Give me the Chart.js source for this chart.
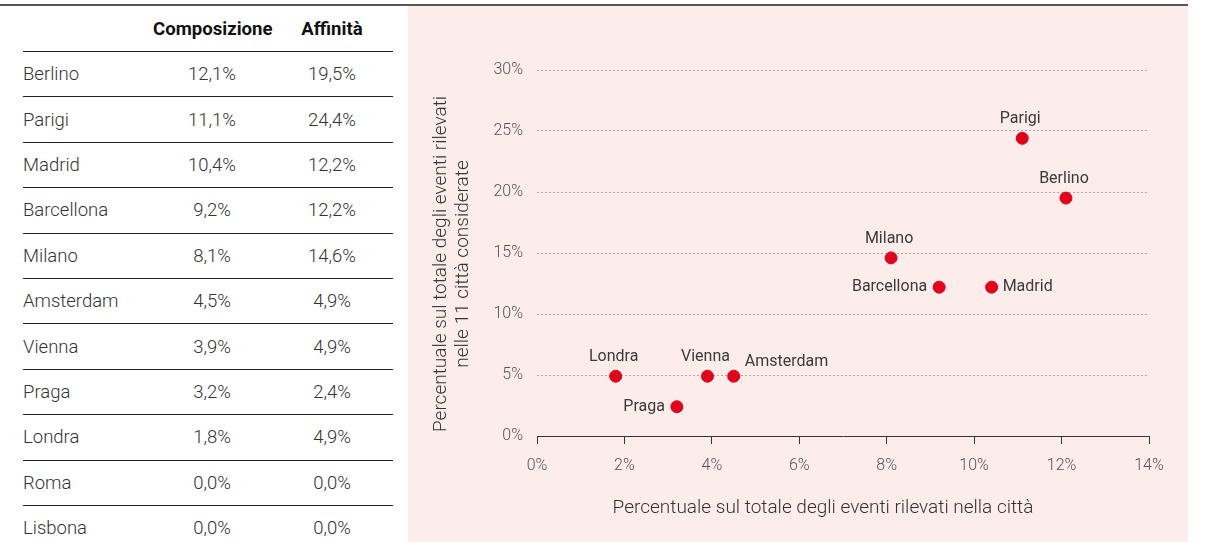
<!DOCTYPE html>
<html lang="it">
<head>
<meta charset="utf-8">
<title>Composizione e affinità</title>
<script src="https://cdn.jsdelivr.net/npm/chart.js@4.4.1/dist/chart.umd.min.js"></script>
<style>
  body { margin: 0; background: #fff; font-family: Roboto, "Noto Sans", sans-serif; }
  #topLine { position: absolute; left: 0; top: 4px; width: 1188px; height: 2px; background: #555; }
  #panel { position: absolute; left: 408px; top: 6px; width: 780px; height: 536px; background: #fdedea; }
  #table { position: absolute; left: 23px; top: 6px; width: 370px; color: #333; font-size: 18.5px; font-weight: 300; }
  .row { display: flex; align-items: center; height: 45.4px; box-sizing: border-box; border-top: 1px solid #222; }
  .row.head { height: 45px; border-top: none; font-weight: 700; font-size: 18.6px; color: #111; }
  .name { width: 130px; }
  .c1 { width: 118px; text-align: center; }
  .c2 { width: 122px; text-align: center; }
</style>
</head>
<body>
<div id="topLine"></div>
<div id="table"></div>
<div id="panel"><canvas id="scatter" width="780" height="536"></canvas></div>
<script>
// table data (all 11 cities)
const cities = ["Berlino", "Parigi", "Madrid", "Barcellona", "Milano", "Amsterdam", "Vienna", "Praga", "Londra", "Roma", "Lisbona"];
const composizione = [12.1, 11.1, 10.4, 9.2, 8.1, 4.5, 3.9, 3.2, 1.8, 0.0, 0.0];
const affinita = [19.5, 24.4, 12.2, 12.2, 14.6, 4.9, 4.9, 2.4, 4.9, 0.0, 0.0];
const xTicks = [0, 2, 4, 6, 8, 10, 12, 14];
const yTicks = [0, 5, 10, 15, 20, 25, 30];
const xTitle = "Percentuale sul totale degli eventi rilevati nella città";
const yTitle = ["Percentuale sul totale degli eventi rilevati", "nelle 11 città considerate"];

// where each city's label sits next to its dot
const labelSide = {
  Berlino: "top", Parigi: "top", Madrid: "right", Barcellona: "left", Milano: "top",
  Amsterdam: "right", Vienna: "top", Praga: "left", Londra: "top"
};

const fmt = v => v.toFixed(1).replace(".", ",") + "%";

const table = document.getElementById("table");
let html = '<div class="row head"><div class="name"></div><div class="c1">Composizione</div><div class="c2">Affinità</div></div>';
cities.forEach((c, i) => {
  html += `<div class="row"><div class="name">${c}</div><div class="c1">${fmt(composizione[i])}</div><div class="c2">${fmt(affinita[i])}</div></div>`;
});
table.innerHTML = html;

// only cities with a non-zero share appear on the chart
const points = [];
const pointNames = [];
cities.forEach((c, i) => {
  if (composizione[i] > 0) {
    points.push({ x: composizione[i], y: affinita[i] });
    pointNames.push(c);
  }
});

const labelPlugin = {
  id: "cityLabels",
  afterDatasetsDraw(chart) {
    const ctx = chart.ctx;
    const meta = chart.getDatasetMeta(0);
    ctx.save();
    ctx.font = "16px Roboto";
    ctx.fillStyle = "#3a3a3a";
    ctx.textBaseline = "middle";
    meta.data.forEach((el, i) => {
      const name = pointNames[i];
      const side = labelSide[name] || "top";
      if (side === "top") {
        ctx.textAlign = "center";
        ctx.fillText(name, el.x - 2, el.y - 19);
      } else if (side === "left") {
        ctx.textAlign = "right";
        ctx.fillText(name, el.x - 12, el.y);
      } else {
        ctx.textAlign = "left";
        ctx.fillText(name, el.x + 11, el.y - (name === "Amsterdam" ? 14 : 0));
      }
    });
    ctx.restore();
  }
};

// axis titles, the x one sits a little left of centre in the original
const titlePlugin = {
  id: "axisTitles",
  afterDraw(chart) {
    const { ctx, chartArea } = chart;
    ctx.save();
    ctx.font = "300 19px Roboto";
    ctx.fillStyle = "#333";
    ctx.textAlign = "center";
    ctx.textBaseline = "middle";
    ctx.fillText(xTitle, (chartArea.left + chartArea.right) / 2 - 20, chartArea.bottom + 72);
    ctx.translate(33, (chartArea.top + chartArea.bottom) / 2 + 11);
    ctx.rotate(-Math.PI / 2);
    yTitle.forEach((line, i) => ctx.fillText(line, 0, i * 22));
    ctx.restore();
  }
};

new Chart(document.getElementById("scatter"), {
  type: "scatter",
  data: {
    datasets: [{
      data: points,
      backgroundColor: "#e2001a",
      borderColor: "#e2001a",
      pointRadius: 6,
      pointHoverRadius: 6
    }]
  },
  plugins: [labelPlugin, titlePlugin],
  options: {
    responsive: false,
    animation: false,
    events: [],
    layout: { padding: { top: 64, right: 39, left: 0, bottom: 0 } },
    plugins: { legend: { display: false }, tooltip: { enabled: false } },
    scales: {
      x: {
        type: "linear",
        min: 0,
        max: 14,
        afterBuildTicks: s => { s.ticks = xTicks.map(v => ({ value: v })); },
        afterFit: s => { s.height = 106; },
        grid: { drawOnChartArea: false, drawTicks: true, tickLength: 8, tickColor: "#333", lineWidth: 1 },
        border: { display: true, color: "#333", width: 1 },
        ticks: { color: "#555", font: { family: "Roboto", size: 16, weight: 300 }, padding: 12, callback: v => v + "%", maxRotation: 0 }
      },
      y: {
        type: "linear",
        min: 0,
        max: 30,
        afterBuildTicks: s => { s.ticks = yTicks.map(v => ({ value: v })); },
        afterFit: s => { s.width = 129; },
        grid: { drawTicks: false, color: "#aaa", lineWidth: 1 },
        border: { display: false, dash: [2, 2] },
        ticks: { color: "#555", font: { family: "Roboto", size: 16, weight: 300 }, padding: 14, callback: v => v + "%" }
      }
    }
  }
});
</script>
</body>
</html>
